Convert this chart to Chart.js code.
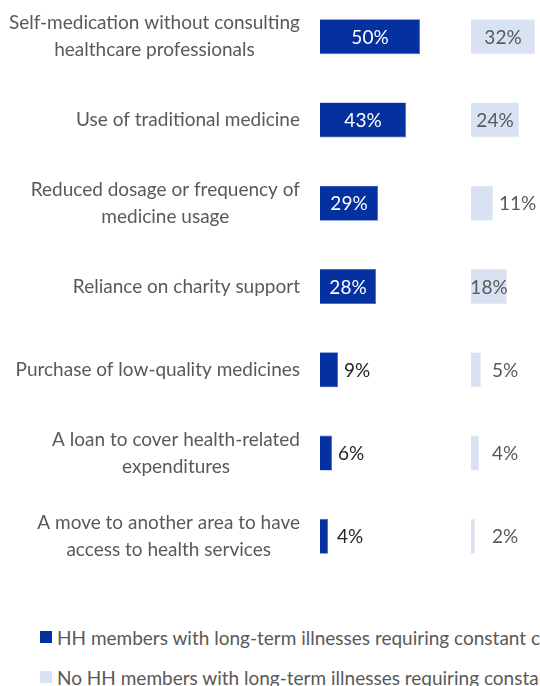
<!DOCTYPE html>
<html>
<head>
<meta charset="utf-8">
<script src="https://cdn.jsdelivr.net/npm/chart.js@4"></script>
<style>
  html, body { margin: 0; padding: 0; background: #fff; }
  body { width: 540px; height: 686px; overflow: hidden; position: relative; font-family: 'Lato', 'Open Sans', sans-serif; }
  #wrap { position: absolute; left: 0; top: -5px; width: 540px; height: 583px; }
  .legend-row { position: absolute; left: 40px; height: 24px; display: flex; align-items: center; white-space: nowrap; font-size: 19px; color: #595959; }
  .legend-row .box { width: 12px; height: 12px; margin-right: 5px; flex: none; }
</style>
</head>
<body>
<div id="wrap"><canvas id="copingChart"></canvas></div>
<div id="legend"></div>
<script>
(function () {
  'use strict';

  const DARK  = '#0531a0';
  const LIGHT = '#d9e2f3';
  const TEXT  = '#595959';

  // categories (each entry is the wrapped lines of a label)
  const categories = [
    ['Self-medication without consulting', 'healthcare professionals'],
    ['Use of traditional medicine'],
    ['Reduced dosage or frequency of', 'medicine usage'],
    ['Reliance on charity support'],
    ['Purchase of low-quality medicines'],
    ['A loan to cover health-related', 'expenditures'],
    ['A move to another area to have', 'access to health services']
  ];
  const withIllness    = [50, 43, 29, 28, 9, 6, 4];
  const withoutIllness = [32, 24, 11, 18, 5, 4, 2];
  const seriesNames = [
    'HH members with long-term illnesses requiring constant care',
    'No HH members with long-term illnesses requiring constant care'
  ];

  const SECOND_PANEL = 75.5;   // where the second column of bars begins on the x scale
  const X_MAX = 110;

  /* ─── Category labels, right-aligned block with centred lines ─── */
  const categoryLabels = {
    id: 'categoryLabels',
    afterDraw: function (chart) {
      const ctx = chart.ctx;
      const yScale = chart.scales.y;
      const right = 300;
      const lineH = 27;
      ctx.save();
      ctx.font = '19px Lato, "Open Sans", sans-serif';
      ctx.fillStyle = TEXT;
      ctx.textAlign = 'center';
      ctx.textBaseline = 'middle';
      categories.forEach(function (lines, i) {
        const cy = yScale.getPixelForValue(i);
        const maxW = Math.max.apply(null, lines.map(function (l) { return ctx.measureText(l).width; }));
        const cx = right - maxW / 2;
        const top = cy - (lines.length - 1) * lineH / 2;
        lines.forEach(function (l, j) { ctx.fillText(l, cx, top + j * lineH); });
      });
      ctx.restore();
    }
  };

  /* ─── Value labels, inside wide bars and after narrow ones ─── */
  const valueLabels = {
    id: 'valueLabels',
    afterDatasetsDraw: function (chart) {
      const ctx = chart.ctx;
      const xScale = chart.scales.x;
      ctx.save();
      ctx.font = '19px Lato, "Open Sans", sans-serif';
      ctx.textBaseline = 'middle';
      chart.data.datasets.forEach(function (ds, di) {
        const meta = chart.getDatasetMeta(di);
        const values = ds.rawValues;
        const panelStart = xScale.getPixelForValue(di === 0 ? 0 : SECOND_PANEL);
        meta.data.forEach(function (bar, i) {
          const v = values[i];
          const txt = v + '%';
          const left = Math.min(bar.base, bar.x);
          const right = Math.max(bar.base, bar.x);
          if (v >= 15) {
            ctx.textAlign = 'center';
            ctx.fillStyle = di === 0 ? '#ffffff' : TEXT;
            ctx.fillText(txt, (left + right) / 2, bar.y + 1);
          } else {
            ctx.textAlign = 'left';
            ctx.fillStyle = di === 0 ? '#262626' : TEXT;
            const x = Math.max(right + 6, panelStart + (di === 0 ? 17 : 21));
            ctx.fillText(txt, x, bar.y + 1);
          }
        });
      });
      ctx.restore();
    }
  };

  function buildLegend() {
    const host = document.getElementById('legend');
    [DARK, LIGHT].forEach(function (c, i) {
      const row = document.createElement('div');
      row.className = 'legend-row';
      row.style.top = (625 + i * 40) + 'px';
      const box = document.createElement('span');
      box.className = 'box';
      box.style.background = c;
      const label = document.createElement('span');
      label.textContent = seriesNames[i];
      row.appendChild(box);
      row.appendChild(label);
      host.appendChild(row);
    });
  }

  document.addEventListener('DOMContentLoaded', function () {
    if (typeof Chart === 'undefined') return;
    buildLegend();

    new Chart(document.getElementById('copingChart'), {
      type: 'bar',
      data: {
        labels: categories,
        datasets: [{
          label: seriesNames[0],
          data: withIllness,
          rawValues: withIllness,
          backgroundColor: DARK,
          borderColor: '#3f64c0',
          borderWidth: 0.6,
          grouped: false,
          barPercentage: 0.42,
          categoryPercentage: 1
        }, {
          label: seriesNames[1],
          data: withoutIllness.map(function (v) { return [SECOND_PANEL, SECOND_PANEL + v]; }),
          rawValues: withoutIllness,
          backgroundColor: LIGHT,
          borderColor: '#e6ecf7',
          borderWidth: 0.6,
          grouped: false,
          barPercentage: 0.42,
          categoryPercentage: 1
        }]
      },
      options: {
        indexAxis: 'y',
        responsive: true,
        maintainAspectRatio: false,
        animation: false,
        layout: { padding: { left: 320, right: 0, top: 0, bottom: 0 } },
        plugins: {
          legend: { display: false },
          tooltip: { enabled: false }
        },
        scales: {
          x: { display: false, min: 0, max: X_MAX },
          y: { display: false }
        }
      },
      plugins: [categoryLabels, valueLabels]
    });
  });
})();
</script>
</body>
</html>
